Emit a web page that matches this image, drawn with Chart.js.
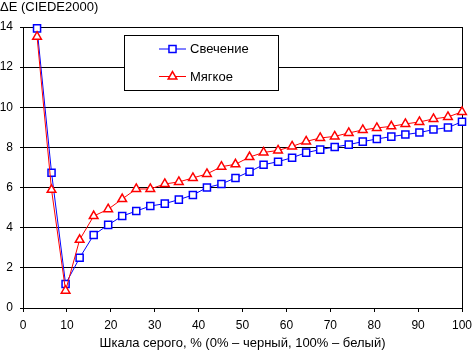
<!DOCTYPE html>
<html>
<head>
<meta charset="utf-8">
<script src="https://cdn.jsdelivr.net/npm/chart.js@4"></script>
<style>
  html, body { margin: 0; padding: 0; background: #fff; }
  #wrap { width: 472px; height: 351px; }
</style>
</head>
<body>
<div id="wrap"><canvas id="chart"></canvas></div>
<script>
// Данные графика
const grayLevels = [3.2, 6.5, 9.7, 12.9, 16.1, 19.4, 22.6, 25.8, 29.0, 32.3, 35.5, 38.7, 41.9, 45.2, 48.4, 51.6,
  54.8, 58.1, 61.3, 64.5, 67.7, 71.0, 74.2, 77.4, 80.6, 83.9, 87.1, 90.3, 93.5, 96.8, 100];
const glowValues = [13.93, 6.74, 1.2, 2.5, 3.64, 4.14, 4.58, 4.83, 5.08, 5.2, 5.4, 5.63, 6.0, 6.18, 6.48, 6.79,
  7.14, 7.29, 7.49, 7.74, 7.89, 8.02, 8.14, 8.29, 8.42, 8.54, 8.64, 8.74, 8.89, 8.99, 9.28];
const softValues = [13.52, 5.89, 0.86, 3.4, 4.58, 4.92, 5.43, 5.93, 5.93, 6.18, 6.28, 6.48, 6.68, 7.04, 7.16, 7.52,
  7.75, 7.85, 8.05, 8.3, 8.47, 8.55, 8.72, 8.87, 8.97, 9.05, 9.17, 9.27, 9.42, 9.52, 9.77];
const seriesNames = ['Свечение', 'Мягкое'];
const yTitle = 'ΔE (CIEDE2000)';
const xTitle = 'Шкала серого, % (0% – черный, 100% – белый)';

const toPoints = ys => ys.map((y, i) => ({ x: grayLevels[i], y }));

const FONT = '"Liberation Sans", Arial, sans-serif';
Chart.defaults.font.family = FONT;
Chart.defaults.font.size = 12;
Chart.defaults.color = '#000';

// подпись оси Y и рамка с легендой рисуем сами
const extras = {
  id: 'extras',
  afterDraw(chart) {
    const ctx = chart.ctx;
    ctx.save();
    ctx.font = '13px ' + FONT;
    ctx.fillStyle = '#000';
    ctx.textAlign = 'left';
    ctx.textBaseline = 'alphabetic';
    ctx.fillText(yTitle, 0, 11);

    // легенда
    const bx = 124.5, by = 35.5, bw = 154, bh = 55;
    ctx.fillStyle = '#fff';
    ctx.fillRect(bx, by, bw, bh);
    ctx.strokeStyle = '#000';
    ctx.lineWidth = 1;
    ctx.strokeRect(bx, by, bw, bh);
    const rows = [48.5, 76];
    chart.data.datasets.forEach((ds, i) => {
      const y = rows[i];
      ctx.strokeStyle = ds.borderColor;
      ctx.lineWidth = 1;
      ctx.beginPath();
      ctx.moveTo(159, y + 0.5);
      ctx.lineTo(186, y + 0.5);
      ctx.stroke();
      ctx.fillStyle = '#fff';
      ctx.lineWidth = ds.pointBorderWidth;
      Chart.helpers.drawPoint(ctx, { pointStyle: ds.pointStyle, radius: ds.pointRadius, rotation: 0, borderWidth: ds.pointBorderWidth }, 172.5, y + 0.5);
      ctx.fillStyle = '#000';
      ctx.textBaseline = 'middle';
      ctx.fillText(ds.label, 190, y + 1);
    });
    ctx.restore();
  }
};

new Chart(document.getElementById('chart'), {
  type: 'line',
  data: {
    datasets: [
      {
        label: seriesNames[0],
        data: toPoints(glowValues),
        borderColor: '#0000ff',
        borderWidth: 1,
        pointStyle: 'rect',
        pointRadius: 5,
        pointBorderWidth: 1.5,
        pointBackgroundColor: '#fff',
        pointBorderColor: '#0000ff',
        clip: false,
        order: 1
      },
      {
        label: seriesNames[1],
        data: toPoints(softValues),
        borderColor: '#ff0000',
        borderWidth: 1,
        pointStyle: 'triangle',
        pointRadius: 5,
        pointBorderWidth: 1.5,
        pointBackgroundColor: '#fff',
        pointBorderColor: '#ff0000',
        clip: false,
        order: 0
      }
    ]
  },
  options: {
    responsive: true,
    maintainAspectRatio: false,
    animation: false,
    events: [],
    layout: { padding: { left: 0, right: 10, top: 27, bottom: 0 } },
    plugins: { legend: { display: false }, tooltip: { enabled: false } },
    scales: {
      x: {
        type: 'linear',
        min: 0, max: 100,
        ticks: { stepSize: 10, padding: 6, maxRotation: 0 },
        grid: {
          color: c => (c.tick && c.tick.value === 100) ? '#000' : 'rgba(0,0,0,0)',
          tickColor: '#000',
          tickLength: 4,
          lineWidth: 1
        },
        border: { display: true, color: '#000', width: 1 },
        title: { display: true, text: xTitle, font: { size: 13 }, padding: { top: 0, bottom: 0 } },
        afterFit: s => { s.height = 43; s.paddingLeft = 0; s.paddingRight = 0; }
      },
      y: {
        min: 0, max: 14,
        ticks: { stepSize: 2, padding: 7 },
        grid: { color: '#000', tickColor: '#000', tickLength: 3, lineWidth: 1 },
        border: { display: true, color: '#000', width: 1 },
        afterFit: s => { s.width = 23; s.paddingTop = 0; s.paddingBottom = 0; }
      }
    }
  },
  plugins: [extras]
});
</script>
</body>
</html>
